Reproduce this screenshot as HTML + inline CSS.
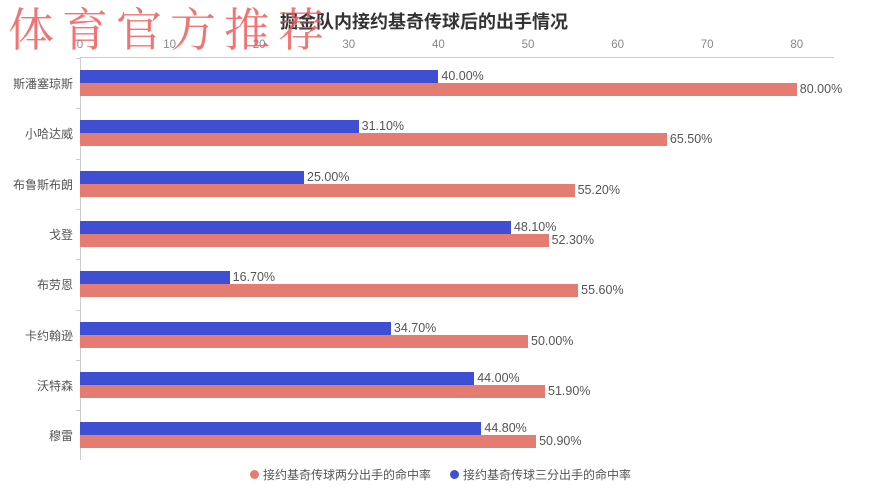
<!DOCTYPE html>
<html><head><meta charset="utf-8"><style>
body{margin:0;width:885px;height:500px;background:#fff;position:relative;overflow:hidden;font-family:"Liberation Sans","Noto Sans CJK SC",sans-serif;}
.a{position:absolute;white-space:nowrap;}
.tick{font-size:11.5px;color:#888;top:39px;transform:translateX(-50%);}
.cat{font-size:12px;color:#555;right:812px;}
.b{position:absolute;height:13px;}
.bl{background:#3e4fd3;}
.rd{background:#e47c72;}
.v{font-size:12.5px;color:#555;}
</style></head><body>
<div class="a" style="left:280px;top:8px;font-size:18px;font-weight:bold;color:#333;">掘金队内接约基奇传球后的出手情况</div>
<div class="a" style="left:80px;top:57px;width:754px;height:1px;background:#ccc;"></div>
<div class="a" style="left:80px;top:58px;width:1px;height:402px;background:#ccc;"></div>
<div id="c"></div>
<div class="a" style="left:250px;top:470px;width:9px;height:9px;border-radius:50%;background:#e47c72;"></div>
<div class="a" style="left:263px;top:466px;font-size:12px;color:#555;">接约基奇传球两分出手的命中率</div>
<div class="a" style="left:450px;top:470px;width:9px;height:9px;border-radius:50%;background:#3e4fd3;"></div>
<div class="a" style="left:463px;top:466px;font-size:12px;color:#555;">接约基奇传球三分出手的命中率</div>
<div class="a" style="left:8px;top:-6px;font-size:46px;letter-spacing:8px;color:rgba(238,90,90,0.85);font-family:'Noto Serif CJK SC',serif;">体育官方推荐</div>
<script>
var s=8.96,x0=80,h='';
for(var i=0;i<=80;i+=10)h+='<div class="a tick" style="left:'+(x0+i*s)+'px">'+i+'</div>';
var d=[["斯潘塞琼斯",40,80],["小哈达威",31.1,65.5],["布鲁斯布朗",25,55.2],["戈登",48.1,52.3],["布劳恩",16.7,55.6],["卡约翰逊",34.7,50],["沃特森",44,51.9],["穆雷",44.8,50.9]];
d.forEach(function(r,k){var t=70+k*50.3;
h+='<div class="b bl" style="left:80px;top:'+t+'px;width:'+(r[1]*s)+'px"></div>';
h+='<div class="b rd" style="left:80px;top:'+(t+13)+'px;width:'+(r[2]*s)+'px"></div>';
h+='<div class="a v" style="left:'+(83+r[1]*s)+'px;top:'+(t-1)+'px">'+r[1].toFixed(2)+'%</div>';
h+='<div class="a v" style="left:'+(83+r[2]*s)+'px;top:'+(t+12)+'px">'+r[2].toFixed(2)+'%</div>';
h+='<div class="a cat" style="top:'+(t+5)+'px">'+r[0]+'</div>';
h+='<div class="a" style="left:76px;top:'+(t-12)+'px;width:4px;height:1px;background:#ccc"></div>';});
document.getElementById('c').innerHTML=h;
</script>
</body></html>
